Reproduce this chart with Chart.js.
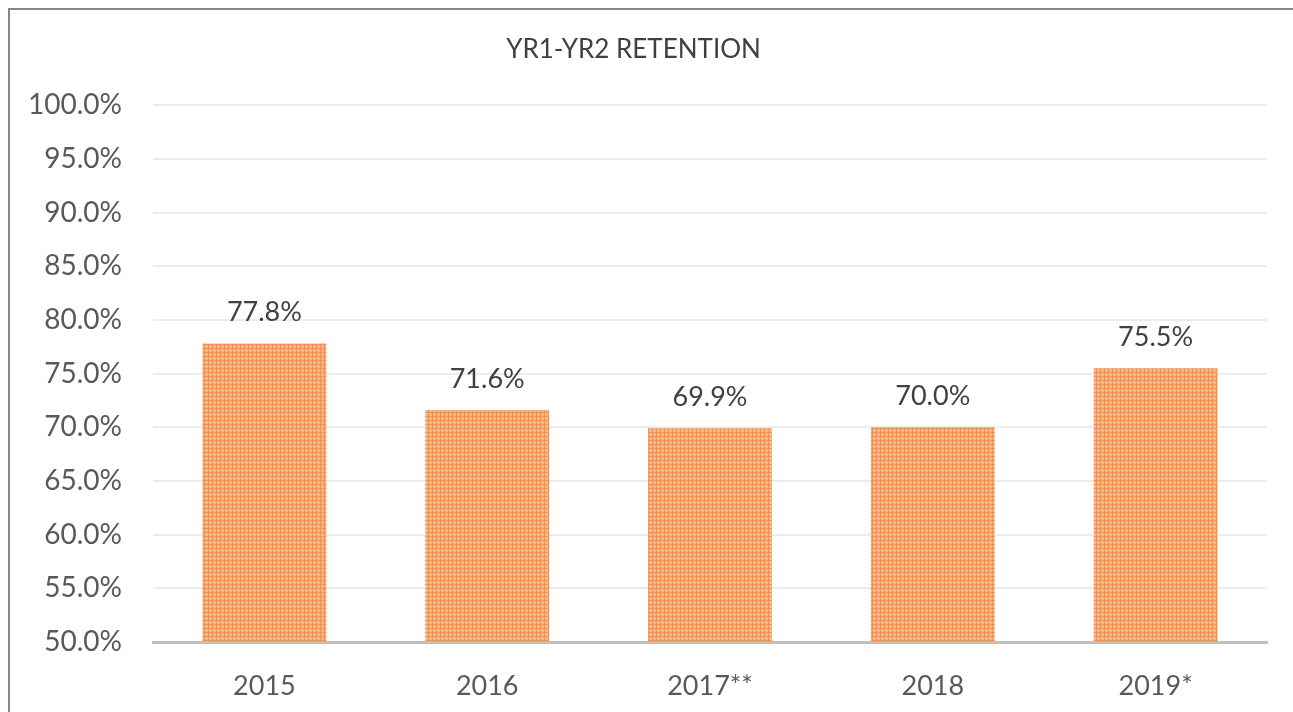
<!DOCTYPE html>
<html>
<head>
<meta charset="utf-8">
<script src="https://cdn.jsdelivr.net/npm/chart.js@4"></script>
<style>
    body { margin: 0; background: #fff; overflow: hidden; }
    #wrap { position: relative; width: 1293px; height: 712px; }
    #frame { position: absolute; left: 8px; top: 8px; width: 1300px; height: 720px; border: 2px solid #878787; box-sizing: border-box; pointer-events: none; }
</style>
</head>
<body>
<div id="wrap">
    <canvas id="retentionChart" width="1293" height="712"></canvas>
    <div id="frame"></div>
</div>
<script>
var years = ['2015', '2016', '2017**', '2018', '2019*'];
var retention = [77.8, 71.6, 69.9, 70.0, 75.5];
var yTicks = [50, 55, 60, 65, 70, 75, 80, 85, 90, 95, 100];

document.addEventListener('DOMContentLoaded', function() {
    // small checked pattern like the excel fill
    var tile = document.createElement('canvas');
    tile.width = 4;
    tile.height = 4;
    var t = tile.getContext('2d');
    t.fillStyle = '#f7b283';
    t.fillRect(0, 0, 4, 4);
    t.fillStyle = '#f1904f';
    t.fillRect(0, 0, 4, 1);
    t.fillRect(0, 0, 1, 4);
    t.fillStyle = '#fbd0b0';
    t.fillRect(2, 2, 1, 1);

    var ctx = document.getElementById('retentionChart').getContext('2d');
    var fill = ctx.createPattern(tile, 'repeat');

    var valueLabels = {
        id: 'valueLabels',
        afterDatasetsDraw: function(chart) {
            var c = chart.ctx;
            var meta = chart.getDatasetMeta(0);
            c.save();
            c.font = '27px Lato';
            c.fillStyle = '#404040';
            c.textAlign = 'center';
            c.textBaseline = 'middle';
            meta.data.forEach(function(bar, i) {
                c.fillText(retention[i].toFixed(1) + '%', bar.x, bar.y - 31);
            });
            c.restore();
        }
    };

    new Chart(ctx, {
        type: 'bar',
        data: {
            labels: years,
            datasets: [{
                label: 'YR1-YR2 Retention',
                data: retention,
                backgroundColor: fill,
                borderWidth: 0,
                categoryPercentage: 1,
                barPercentage: 0.556
            }]
        },
        options: {
            responsive: false,
            animation: false,
            layout: { padding: { left: 0, right: 26, top: 0, bottom: 0 } },
            plugins: {
                legend: { display: false },
                tooltip: { enabled: false },
                title: {
                    display: true,
                    text: 'YR1-YR2 RETENTION',
                    color: '#404040',
                    font: { family: 'Lato', size: 26, weight: 'normal' },
                    padding: { top: 34, bottom: 40 }
                }
            },
            scales: {
                x: {
                    grid: { display: false },
                    border: { color: '#bfbfbf', width: 3 },
                    ticks: { color: '#595959', font: { family: 'Lato', size: 27 }, padding: 20 },
                    afterFit: function(scale) { scale.height = 70; }
                },
                y: {
                    min: 50,
                    max: 100,
                    afterBuildTicks: function(scale) {
                        scale.ticks = yTicks.map(function(v) { return { value: v }; });
                    },
                    grid: { color: '#ececec', lineWidth: 2, drawTicks: false },
                    border: { display: false },
                    ticks: {
                        color: '#595959',
                        font: { family: 'Lato', size: 28 },
                        padding: 31,
                        callback: function(v) { return v.toFixed(1) + '%'; }
                    },
                    afterFit: function(scale) { scale.width = 153; }
                }
            }
        },
        plugins: [valueLabels]
    });
});
</script>
</body>
</html>
